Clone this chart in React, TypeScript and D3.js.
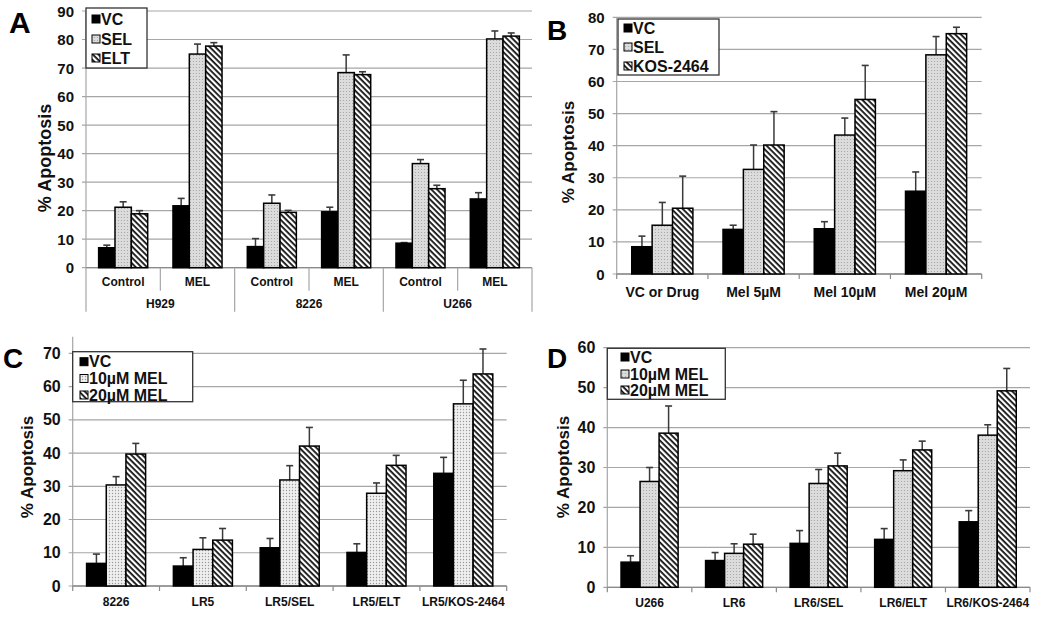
import React from 'react';
import * as d3 from 'd3';

const FONT = '"Liberation Sans", Arial, Helvetica, sans-serif';

// ---------- Panel A ----------
const aGroups = ['H929', '8226', 'U266'];
const aSubs = ['Control', 'MEL'];
const aSeries = ['VC', 'SEL', 'ELT'];
const aVC = [7.0, 21.7, 7.4, 19.6, 8.6, 24.1];
const aSEL = [21.2, 74.9, 22.6, 68.4, 36.5, 80.2];
const aELT = [18.9, 77.7, 19.4, 67.7, 27.7, 81.2];
const aVCErr = [0.9, 2.6, 2.8, 1.6, 0.2, 2.2];
const aSELErr = [1.9, 3.5, 2.9, 6.2, 1.4, 2.8];
const aELTErr = [1.1, 1.2, 0.7, 1.0, 1.2, 1.1];
const aTicks = [0, 10, 20, 30, 40, 50, 60, 70, 80, 90];

// ---------- Panel B ----------
const bCats = ['VC or Drug', 'Mel 5µM', 'Mel 10µM', 'Mel 20µM'];
const bSeries = ['VC', 'SEL', 'KOS-2464'];
const bVC = [8.5, 13.9, 14.1, 25.8];
const bSEL = [15.2, 32.6, 43.3, 68.3];
const bKOS = [20.5, 40.2, 54.4, 74.9];
const bVCErr = [3.3, 1.3, 2.2, 6.0];
const bSELErr = [7.1, 7.6, 5.3, 5.7];
const bKOSErr = [10.0, 10.4, 10.6, 2.0];
const bTicks = [0, 10, 20, 30, 40, 50, 60, 70, 80];

// ---------- Panel C ----------
const cCats = ['8226', 'LR5', 'LR5/SEL', 'LR5/ELT', 'LR5/KOS-2464'];
const cSeries = ['VC', '10µM MEL', '20µM MEL'];
const cVC = [6.8, 6.0, 11.5, 10.1, 33.9];
const c10 = [30.4, 11.0, 31.9, 27.9, 54.8];
const c20 = [39.7, 13.8, 42.1, 36.3, 63.8];
const cVCErr = [2.8, 2.5, 2.8, 2.6, 4.8];
const c10Err = [2.5, 3.5, 4.3, 3.1, 7.1];
const c20Err = [3.2, 3.5, 5.6, 3.0, 7.5];
const cTicks = [0, 10, 20, 30, 40, 50, 60, 70];

// ---------- Panel D ----------
const dCats = ['U266', 'LR6', 'LR6/SEL', 'LR6/ELT', 'LR6/KOS-2464'];
const dSeries = ['VC', '10µM MEL', '20µM MEL'];
const dVC = [6.3, 6.7, 11.0, 12.0, 16.4];
const d10 = [26.5, 8.5, 26.0, 29.2, 38.1];
const d20 = [38.6, 10.8, 30.4, 34.4, 49.2];
const dVCErr = [1.6, 2.0, 3.2, 2.7, 2.8];
const d10Err = [3.5, 2.4, 3.5, 2.7, 2.6];
const d20Err = [6.8, 2.5, 3.2, 2.2, 5.6];
const dTicks = [0, 10, 20, 30, 40, 50, 60];

const FILLS = ['#000', 'url(#dots)', 'url(#hatch)'];
const FILLS_LIGHT = ['#000', 'url(#dotsLight)', 'url(#hatch)'];

type PanelProps = {
  letter: string;
  letterX: number;
  letterY: number;
  letterSize: number;
  x0: number;
  x1: number;
  y0: number;
  yTopVal: number;
  yTop: number;
  axisTop: number;
  ticks: number[];
  tickSize: number;
  cats: string[];
  values: number[][];
  errs: number[][];
  clusterRatio: number;
  fills: string[];
  series: string[];
  legend: { x: number; y: number; w: number; h: number; fs: number; markerX: number; rows: number[] };
  titleX: number;
  titleY: number;
  titleSize: number;
  catLabelY: number;
  catFs: number;
  twoLevel?: { groups: string[]; subs: string[]; groupY: number };
};

function Panel(p: PanelProps) {
  const y = d3.scaleLinear().domain([0, p.yTopVal]).range([p.y0, p.yTop]);
  const x = d3.scaleBand<string>().domain(p.cats.map((c, i) => String(i))).range([p.x0, p.x1]).padding(0);
  const bw = x.bandwidth();
  const inner = d3
    .scaleBand<string>()
    .domain(p.series)
    .range([-(bw * p.clusterRatio) / 2, (bw * p.clusterRatio) / 2])
    .padding(0);
  const iw = inner.bandwidth();
  const grid = '#a6a6a6';
  return (
    <g fontFamily={FONT}>
      <text x={p.letterX} y={p.letterY} fontSize={p.letterSize} fontWeight="bold" fill="#000">
        {p.letter}
      </text>
      {/* gridlines */}
      {p.ticks.map((t) => (
        <g key={t}>
          <line x1={p.x0 - 4} x2={p.x1} y1={y(t)} y2={y(t)} stroke={grid} strokeWidth={1.2} />
          <text
            x={p.x0 - 12}
            y={y(t)}
            textAnchor="end"
            dominantBaseline="central"
            fontSize={p.tickSize}
            fontWeight="bold"
            fill="#111"
          >
            {t}
          </text>
        </g>
      ))}
      <line x1={p.x0} x2={p.x0} y1={p.axisTop} y2={p.y0} stroke={grid} strokeWidth={1.2} />
      <line x1={p.x0} x2={p.x1} y1={p.y0} y2={p.y0} stroke="#8a8a8a" strokeWidth={1.3} />
      {/* bars */}
      {p.cats.map((c, ci) => {
        const cx = (x(String(ci)) as number) + bw / 2;
        return (
          <g key={ci}>
            {p.series.map((s, si) => {
              const v = p.values[si][ci];
              const bx = cx + (inner(s) as number);
              const top = y(v + p.errs[si][ci]);
              const mid = bx + iw / 2;
              return (
                <g key={s}>
                  <line x1={mid} x2={mid} y1={y(v)} y2={top} stroke="#3a3a3a" strokeWidth={1.5} />
                  <line x1={mid - 3.5} x2={mid + 3.5} y1={top} y2={top} stroke="#3a3a3a" strokeWidth={1.6} />
                  <rect
                    x={bx}
                    y={y(v)}
                    width={iw}
                    height={p.y0 - y(v)}
                    fill={p.fills[si]}
                    stroke="#000"
                    strokeWidth={1.5}
                  />
                </g>
              );
            })}
          </g>
        );
      })}
      {/* category axis */}
      {p.twoLevel ? (
        <g>
          {p.cats.map((c, ci) => (
            <text
              key={ci}
              x={(x(String(ci)) as number) + bw / 2}
              y={p.catLabelY}
              textAnchor="middle"
              dominantBaseline="central"
              fontSize={p.catFs}
              fontWeight="bold"
              fill="#111"
            >
              {c}
            </text>
          ))}
          {d3.range(p.cats.length + 1).map((i) => {
            const xx = i < p.cats.length ? (x(String(i)) as number) : p.x1;
            const outer = i % p.twoLevel!.subs.length === 0;
            return (
              <line
                key={i}
                x1={xx}
                x2={xx}
                y1={p.y0}
                y2={outer ? p.y0 + 44 : p.y0 + 23}
                stroke={grid}
                strokeWidth={1.2}
              />
            );
          })}
          {p.twoLevel.groups.map((g, gi) => {
            const n = p.twoLevel!.subs.length;
            const gx = (x(String(gi * n)) as number) + (bw * n) / 2;
            return (
              <text
                key={g}
                x={gx}
                y={p.twoLevel!.groupY}
                textAnchor="middle"
                dominantBaseline="central"
                fontSize={p.catFs}
                fontWeight="bold"
                fill="#111"
              >
                {g}
              </text>
            );
          })}
        </g>
      ) : (
        <g>
          {d3.range(p.cats.length + 1).map((i) => {
            const xx = i < p.cats.length ? (x(String(i)) as number) : p.x1;
            return <line key={i} x1={xx} x2={xx} y1={p.y0} y2={p.y0 + 5} stroke="#8a8a8a" strokeWidth={1.2} />;
          })}
          {p.cats.map((c, ci) => (
            <text
              key={ci}
              x={(x(String(ci)) as number) + bw / 2}
              y={p.catLabelY}
              textAnchor="middle"
              dominantBaseline="central"
              fontSize={p.catFs}
              fontWeight="bold"
              fill="#111"
            >
              {c}
            </text>
          ))}
        </g>
      )}
      {/* y title */}
      <text
        transform={`translate(${p.titleX},${p.titleY}) rotate(-90)`}
        textAnchor="middle"
        dominantBaseline="central"
        fontSize={p.titleSize}
        fontWeight="bold"
        fill="#111"
      >
        % Apoptosis
      </text>
      {/* legend */}
      <g>
        <rect
          x={p.legend.x}
          y={p.legend.y}
          width={p.legend.w}
          height={p.legend.h}
          fill="#fff"
          stroke="#333"
          strokeWidth={1.3}
        />
        {p.series.map((s, si) => (
          <g key={s}>
            <rect
              x={p.legend.markerX}
              y={p.legend.rows[si] - 4}
              width={8}
              height={8}
              fill={p.fills[si]}
              stroke="#000"
              strokeWidth={1}
            />
            <text
              x={p.legend.markerX + 9}
              y={p.legend.rows[si]}
              dominantBaseline="central"
              fontSize={p.legend.fs}
              fontWeight="bold"
              fill="#111"
            >
              {s}
            </text>
          </g>
        ))}
      </g>
    </g>
  );
}

export default function App() {
  return (
    <svg width={1050} height={618} style={{ position: 'absolute', left: 0, top: 0, background: '#fff' }}>
      <defs>
        <pattern id="hatch" patternUnits="userSpaceOnUse" width={4} height={4} patternTransform="rotate(45)">
          <rect width={4} height={4} fill="#fff" />
          <rect width={4} height={1.8} fill="#111" />
        </pattern>
        <pattern id="dots" patternUnits="userSpaceOnUse" width={3} height={3}>
          <rect width={3} height={3} fill="#dcdcdc" />
          <circle cx={1.5} cy={1.5} r={0.6} fill="#a0a0a0" />
        </pattern>
        <pattern id="dotsLight" patternUnits="userSpaceOnUse" width={3} height={3}>
          <rect width={3} height={3} fill="#efefef" />
          <circle cx={1.5} cy={1.5} r={0.7} fill="#999" />
        </pattern>
      </defs>
      <rect width={1050} height={618} fill="#fff" />
      <Panel
        letter="A"
        letterX={9}
        letterY={33}
        letterSize={30}
        x0={86}
        x1={532}
        y0={267.7}
        yTopVal={90}
        yTop={11}
        axisTop={11}
        ticks={aTicks}
        tickSize={15}
        cats={aGroups.flatMap(() => aSubs)}
        values={[aVC, aSEL, aELT]}
        errs={[aVCErr, aSELErr, aELTErr]}
        clusterRatio={0.66}
        fills={FILLS}
        series={aSeries}
        legend={{ x: 86, y: 8, w: 61, h: 60, fs: 16, markerX: 92, rows: [19, 39, 58] }}
        titleX={45}
        titleY={158}
        titleSize={18}
        catLabelY={282}
        catFs={12}
        twoLevel={{ groups: aGroups, subs: aSubs, groupY: 304 }}
      />
      <Panel
        letter="B"
        letterX={547}
        letterY={40}
        letterSize={28}
        x0={616.7}
        x1={981.7}
        y0={274}
        yTopVal={80}
        yTop={17.3}
        axisTop={17.3}
        ticks={bTicks}
        tickSize={15}
        cats={bCats}
        values={[bVC, bSEL, bKOS]}
        errs={[bVCErr, bSELErr, bKOSErr]}
        clusterRatio={0.67}
        fills={FILLS}
        series={bSeries}
        legend={{ x: 618, y: 19, w: 101, h: 56, fs: 16, markerX: 624, rows: [28, 47, 66] }}
        titleX={568}
        titleY={152}
        titleSize={17}
        catLabelY={292}
        catFs={14}
      />
      <Panel
        letter="C"
        letterX={3}
        letterY={368}
        letterSize={28}
        x0={72.7}
        x1={506.7}
        y0={586}
        yTopVal={75}
        yTop={336.7}
        axisTop={336.7}
        ticks={cTicks}
        tickSize={16}
        cats={cCats}
        values={[cVC, c10, c20]}
        errs={[cVCErr, c10Err, c20Err]}
        clusterRatio={0.68}
        fills={FILLS_LIGHT}
        series={cSeries}
        legend={{ x: 72.7, y: 351.7, w: 120, h: 50, fs: 16, markerX: 80, rows: [361.7, 378.5, 395] }}
        titleX={27}
        titleY={467}
        titleSize={17}
        catLabelY={602}
        catFs={12}
      />
      <Panel
        letter="D"
        letterX={547}
        letterY={368}
        letterSize={28}
        x0={607.3}
        x1={1030}
        y0={587.3}
        yTopVal={60}
        yTop={347.7}
        axisTop={347.7}
        ticks={dTicks}
        tickSize={16}
        cats={dCats}
        values={[dVC, d10, d20]}
        errs={[dVCErr, d10Err, d20Err]}
        clusterRatio={0.675}
        fills={FILLS}
        series={dSeries}
        legend={{ x: 607.3, y: 348.3, w: 118, h: 51, fs: 16, markerX: 621, rows: [357, 374, 390] }}
        titleX={563}
        titleY={467}
        titleSize={17}
        catLabelY={603}
        catFs={12}
      />
    </svg>
  );
}
